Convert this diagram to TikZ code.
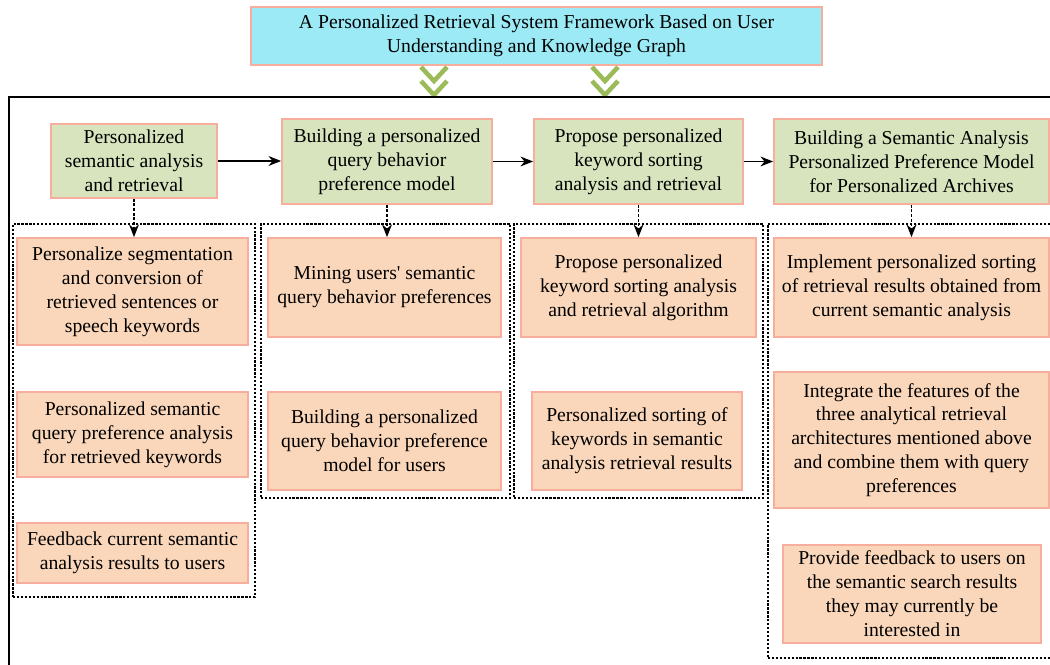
\documentclass[tikz,border=0pt]{standalone}
\usepackage{fontspec}
\setmainfont{Liberation Serif}
\usetikzlibrary{arrows.meta}

\definecolor{titlecyan}{HTML}{9BEAF6}
\definecolor{boxline}{HTML}{F8AE9C}
\definecolor{headgreen}{HTML}{D7E4BD}
\definecolor{itempeach}{HTML}{FAD7BA}
\definecolor{chevgreen}{HTML}{9BBB59}

\tikzset{
  box/.style={draw=boxline, line width=1.2pt, align=center, inner sep=2pt,
    font=\fontsize{14}{17}\selectfont},
  titlebox/.style={box, fill=titlecyan},
  headbox/.style={box, fill=headgreen},
  itembox/.style={box, fill=itempeach},
  groupbox/.style={draw, line width=0.9pt, dash pattern=on 1.6pt off 1.2pt, inner sep=0pt},
  flow/.style={->, line width=1pt},
  dropflow/.style={->, line width=1pt, dash pattern=on 2pt off 1.3pt},
}

\begin{document}
\begin{tikzpicture}[x=0.025cm, y=-0.025cm, >={Stealth[length=9pt,width=7pt]}]
\clip (0,0) rectangle (1050,664);

% title and chevrons
\node[titlebox, minimum width=14.275cm, minimum height=1.45cm] (title) at (536.5,36)
  {A Personalized Retrieval System Framework Based on User\\ Understanding and Knowledge Graph};
\foreach \cx in {434,605}
  \foreach \cy in {67,81}
    \draw[chevgreen, line width=3.2pt] (\cx-13,\cy) -- (\cx,\cy+14) -- (\cx+13,\cy);

% outer frame
\draw[line width=1.3pt] (1070,97) -| (9,690);

% dotted groups
\node[groupbox, minimum width=6.05cm, minimum height=9.325cm] (g1) at (134,410.5) {};
\node[groupbox, minimum width=6.225cm, minimum height=6.85cm] (g2) at (385.5,361) {};
\node[groupbox, minimum width=6.225cm, minimum height=6.85cm] (g3) at (638.5,361) {};
\node[groupbox, minimum width=7.3cm, minimum height=10.85cm] (g4) at (914,441) {};

% head row
\node[headbox, minimum width=4.15cm, minimum height=1.85cm] (h1) at (134,161)
  {Personalized\\ semantic analysis\\ and retrieval};
\node[headbox, minimum width=5.25cm, minimum height=2.125cm] (h2) at (387,161.5)
  {Building a personalized\\ query behavior\\ preference model};
\node[headbox, minimum width=5.225cm, minimum height=2.125cm] (h3) at (638.5,161.5)
  {Propose personalized\\ keyword sorting\\ analysis and retrieval};
\node[headbox, minimum width=6.875cm, minimum height=2.125cm] (h4) at (911.5,161.5)
  {Building a Semantic Analysis\\ Personalized Preference Model\\ for Personalized Archives};

% column 1
\node[itembox, minimum width=5.775cm, minimum height=2.675cm] (i1a) at (132.5,291.5)
  {Personalize segmentation\\ and conversion of\\ retrieved sentences or\\ speech keywords};
\node[itembox, minimum width=5.775cm, minimum height=2.125cm] (i1b) at (132.5,434.5)
  {Personalized semantic\\ query preference analysis\\ for retrieved keywords};
\node[itembox, minimum width=5.775cm, minimum height=1.5cm] (i1c) at (132.5,553)
  {Feedback current semantic\\ analysis results to users};

% column 2
\node[itembox, minimum width=5.825cm, minimum height=2.475cm] (i2a) at (384.5,287.5)
  {Mining users\textquotesingle{} semantic\\ query behavior preferences};
\node[itembox, minimum width=5.825cm, minimum height=2.45cm] (i2b) at (384.5,441)
  {Building a personalized\\ query behavior preference\\ model for users};

% column 3
\node[itembox, minimum width=5.875cm, minimum height=2.475cm] (i3a) at (638.5,287.5)
  {Propose personalized\\ keyword sorting analysis\\ and retrieval algorithm};
\node[itembox, minimum width=5.25cm, minimum height=2.45cm] (i3b) at (637,441)
  {Personalized sorting of\\ keywords in semantic\\ analysis retrieval results};

% column 4
\node[itembox, minimum width=6.875cm, minimum height=2.475cm] (i4a) at (911.5,287.5)
  {Implement personalized sorting\\ of retrieval results obtained from\\ current semantic analysis};
\node[itembox, minimum width=6.875cm, minimum height=3.4cm] (i4b) at (911.5,440)
  {Integrate the features of the\\ three analytical retrieval\\ architectures mentioned above\\ and combine them with query\\ preferences};
\node[itembox, minimum width=6.45cm, minimum height=2.45cm] (i4c) at (912,594)
  {Provide feedback to users on\\ the semantic search results\\ they may currently be\\ interested in};

% connectors
\draw[flow] (h1.east) -- (h1.east -| h2.west);
\draw[flow] (h2.east) -- (h2.east -| h3.west);
\draw[flow] (h3.east) -- (h3.east -| h4.west);
\draw[dropflow] (h1.south) -- (h1.south |- i1a.north);
\draw[dropflow] (h2.south) -- (h2.south |- i2a.north);
\draw[dropflow] (h3.south) -- (h3.south |- i3a.north);
\draw[dropflow] (h4.south) -- (h4.south |- i4a.north);
\end{tikzpicture}
\end{document}
